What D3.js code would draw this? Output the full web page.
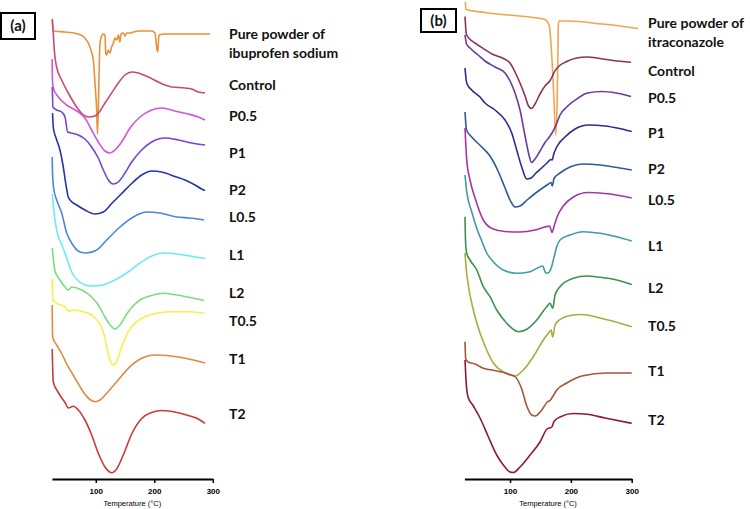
<!DOCTYPE html>
<html><head><meta charset="utf-8">
<script src="https://cdn.jsdelivr.net/npm/d3@7"></script>
<style>body{margin:0;background:#fff}svg{display:block}</style>
</head><body>
<svg id="c" width="750" height="509"></svg>
<script>
// x: temperature (°C); y: heat flow (arbitrary units, curves offset vertically)
const tempDomain = [25, 300];
const tempTicks = [100, 200, 300];
const axisTitle = "Temperature (°C)";

// ---------- Panel (a) ----------
const aPure = [[25.7,459],[27,448],[47,447],[70,445],[81.5,441],[90,432],[95.8,419],[98.6,396],[101.5,369],[103,345],[105.5,402],[107.2,436],[110,443],[112.9,445],[115.7,444],[117,426],[118.6,424],[121.4,429],[124.3,426],[127.1,432],[130,436],[132.8,441],[135.7,439],[138.5,444],[141.4,437],[143.1,445],[147.1,446],[149.9,443],[152.8,446],[158.5,446],[164.2,447],[172.7,448],[184.1,448],[195.5,448],[201.2,446],[204,432],[205.8,427],[206.9,436],[208,444],[218.3,445],[241,445],[269.6,445],[295.2,445]];
const aControl = [[25.7,460],[27.4,446],[29.1,429],[33.1,412],[41.6,399],[53,386],[67.3,372],[81.5,363],[90.1,362],[101.5,364],[115.7,376],[127.1,386],[138.5,396],[149.9,404],[161.3,407],[172.7,406],[189.8,402],[206.9,397],[218.3,394],[229.7,392],[252.5,391],[263.9,390],[275.3,387],[286.7,386]];
const aP05 = [[25.5,420],[25.7,402],[27.4,391],[36,382],[50.2,374],[58.7,371],[70.1,367],[81.5,361],[92.9,349],[104.3,337],[115.7,328],[124.3,326],[132.8,329],[144.2,337],[158.5,351],[175.6,362],[195.5,369],[212.6,371],[235.4,368],[258.2,365],[275.3,362],[286.7,359]];
const aP1 = [[25.7,392],[26.8,372],[33.1,369],[41.6,367],[47.4,362],[51.9,347],[58.7,346],[70.1,344],[81.5,340],[92.9,332],[104.3,321],[112.9,309],[121.4,299],[130,295],[138.5,297],[149.9,306],[161.3,317],[178.4,329],[195.5,337],[218.3,341],[241,339],[263.9,336],[286.7,334]];
const aP2 = [[26.1,366],[27.5,351],[32.1,341],[38.8,329],[43.9,314],[49.1,294],[53,282],[57.6,278],[67.4,274],[81.5,269],[98.6,265],[112.8,267],[127.2,275.5],[144.3,285.5],[161.4,295.5],[178.5,304],[195.6,308],[212.6,307],[235.4,302.5],[252.5,299],[269.6,294],[281,290],[286.7,288.5]];
const aL05 = [[25.5,322],[26.3,302],[28.5,289],[33.2,279],[41.7,266],[50.3,246],[58.8,236],[73,227],[84.4,226],[101.5,229],[118.6,239],[141.4,252],[164.1,262],[187,267],[209.7,266],[238.3,262],[261,261],[285,259]];
const aL1 = [[25.6,285],[30.3,259],[35.1,244],[42.1,234],[50.3,221],[58.8,207],[73,197],[90.1,193],[107.2,193.5],[129.4,198],[152.8,206],[175.6,216],[197.8,223.5],[214.9,226],[238.8,225],[261,223],[286.7,220.5]];
const aL2 = [[25.6,231],[30.3,208],[38.8,199],[47.4,192],[53,189],[58.8,192],[70.1,190.5],[81.5,187],[93,182],[104.3,174],[115.7,162],[124.3,154],[132.8,150],[141.4,154],[152.8,165],[163.6,173],[175.6,179],[198.3,184],[215.4,185.7],[238.3,184],[261,181.5],[285,178.5]];
const aT05 = [[25.5,200],[26.3,179],[33.2,175.7],[47.4,172.3],[53,168],[64.4,169],[78.6,167.3],[93,164],[104.3,157.3],[112.8,147.3],[118.6,132.3],[124.3,119],[129.9,114],[135.7,117.3],[144.3,132.3],[155.6,147.3],[169.9,157.3],[187,163],[209.7,166.3],[232.5,167.3],[261,167.3],[285,165.7]];
const aT1 = [[25.5,174],[26.3,142],[33.2,134],[41.7,125.5],[50.3,115],[58.8,106.5],[67.4,98],[78.6,87],[90.1,79.5],[98.6,77.3],[107.2,79],[118.6,85.7],[135.7,97.3],[155.6,110.7],[178.5,120.7],[201.2,124],[221.2,123.5],[243.9,121.7],[266.7,119],[286.7,116]];
const aT2 = [[25.5,130],[27.4,97],[35.9,86.5],[47.4,76.5],[53,71],[61.5,72.7],[70.1,69],[81.5,59],[93,44],[104.3,25.7],[115.7,12],[127.2,6.3],[135.7,10],[147,24],[161.4,45],[178.5,60.5],[195.6,66.5],[212.6,68.5],[241,66.3],[263.9,62.5],[275.2,60],[286.7,55.5]];

// ---------- Panel (b) ----------
const bPure = [[26.5,477],[27.7,469.5],[58.9,466.5],[96.7,464],[135.7,461.7],[157.5,459.5],[162.5,456],[164.9,452],[166.9,439],[169.9,409],[172.3,379],[174.8,344],[177.3,374],[178.6,419],[179.4,454],[180.6,458],[195.4,458],[250.7,455],[280.8,453],[310.4,450.5]];
const bControl = [[26,462.5],[28.2,445],[32.6,440.7],[42.5,436],[55.6,430.7],[72.1,424.5],[88.5,420.7],[100,416],[108.2,407],[116.4,396],[124.7,383],[130.4,373],[135.3,370.5],[141.1,375],[149.3,385],[157.5,393],[165.8,398.5],[169,402],[172.3,406.5],[178.9,412],[193.2,417.5],[209.7,421],[226.1,422],[248,420.5],[269.3,418.5],[298.9,416.7]];
const bP05 = [[26,444],[28.5,435],[34.2,431],[47.4,424],[58.9,418],[75.3,412],[91.8,406],[101.6,396],[108.2,386],[116.4,369],[124.7,343],[130.4,326],[135.3,316.5],[141.1,320],[149.3,328],[157.5,336.5],[165.8,343],[169,346],[175.6,354],[182.2,364],[193.2,372],[209.7,380],[227.4,386],[251.2,387.5],[274.3,386],[298.9,382.5]];
const bP1 = [[26,411],[28.8,396],[37,389],[50.7,382],[58.9,376],[75.3,369],[91.8,359],[102.8,346],[111,329],[119.2,312],[127.5,300],[134.5,301],[142.7,306],[151,310.5],[160.8,316],[167.4,319.5],[169.5,319],[171.5,324],[176.8,332],[190.4,342],[206.9,350],[228.7,354],[256.2,353],[278,350.7],[300.1,347.5]];
const bP2 = [[26,367],[28.5,349],[37,342],[53.5,332],[67.1,323],[80.3,308],[91.8,291],[100,279],[108.2,272],[116.4,273],[127.9,279],[144.4,287],[160.8,294],[167.4,296.5],[169.5,293],[172.3,300.5],[182.2,306],[198.6,312],[220,315],[248,314],[275.9,311.5],[300.1,309]];
const bL05 = [[26,351],[28.8,319],[34.2,299],[42.5,281],[56.1,259],[70.4,250.5],[91.8,247.5],[116.4,247],[141.1,249],[157.5,252],[164.9,253],[167.4,249],[169,246.5],[172.3,252.5],[177.3,262],[187.6,273],[204.1,282],[228.2,286.5],[256.2,285.5],[300.1,281]];
const bL1 = [[26,304],[28.8,287.3],[37,267.3],[45.3,250.7],[53.5,238],[61.7,226],[72.5,217.3],[89,209],[111,205.7],[132.9,207.3],[149.3,212.3],[153.8,213],[157.5,207.3],[161.3,205.7],[166.9,209.7],[171.2,219],[176.8,232.3],[182.2,239],[198.6,244],[220.5,247.3],[248,245.7],[275.4,242.3],[300.1,238]];
const bL2 = [[26,262.3],[26.8,239],[28.8,225.7],[34.2,219],[45.3,209],[56.1,192.3],[67.1,182.3],[78.1,169],[94.6,155.7],[113.6,147.3],[127.5,149.7],[143.9,159],[160.3,172.3],[165.8,175.7],[170.2,170.7],[174,184],[182.2,192.3],[204.1,200.7],[226.1,203],[248,201.7],[275.4,199],[300.1,194.5]];
const bT05 = [[26,226],[27.7,212],[31.4,194],[39.7,169],[50.7,146],[61.7,129],[72.5,116],[89,107],[108.2,103],[121.9,109],[138.3,122.3],[154.7,139],[164.6,147],[167.4,149],[170.2,142],[174,154],[182.2,159.5],[198.6,163.5],[217.9,164.5],[248,161],[300.1,152.3]];
const bT1 = [[26,137.3],[27.2,120],[31.4,117],[42.5,115],[56.1,110.7],[72.5,108.7],[89,106.7],[100,104.5],[108.2,102.5],[119.2,90],[127.5,73],[135.7,64],[141.1,63],[152.1,69],[161.3,77],[165.8,78.5],[170.2,82.5],[176.8,89],[193.2,96],[217.9,103],[259,106],[300.1,106]];
const bT2 = [[26,119],[28.2,94],[31,82],[39.7,73],[50.7,61],[63.8,43],[78.1,24],[89,14],[100,7],[105.4,6.5],[116.4,12],[132.9,24],[149.3,37],[160.8,50],[168.6,52],[172.3,57.5],[182.2,62],[203.6,65.5],[226.6,64.7],[256.2,61],[300.1,55.7]];

const seriesNames = ["Pure powder", "Control", "P0.5", "P1", "P2", "L0.5", "L1", "L2", "T0.5", "T1", "T2"];
const panelALabels = [["Pure powder of", "ibuprofen sodium"], ["Control"], ["P0.5"], ["P1"], ["P2"], ["L0.5"], ["L1"], ["L2"], ["T0.5"], ["T1"], ["T2"]];
const panelBLabels = [["Pure powder of", "itraconazole"], ["Control"], ["P0.5"], ["P1"], ["P2"], ["L0.5"], ["L1"], ["L2"], ["T0.5"], ["T1"], ["T2"]];
const panelAData = [aPure, aControl, aP05, aP1, aP2, aL05, aL1, aL2, aT05, aT1, aT2];
const panelBData = [bPure, bControl, bP05, bP1, bP2, bL05, bL1, bL2, bT05, bT1, bT2];

// ---------- styling / layout ----------
const colorsA = ["#E8913A", "#C94A78", "#D455D8", "#7845CF", "#2533B0", "#4C86DA", "#6DEAF2", "#78DF7A", "#F6F048", "#E08A42", "#CC3A3A"];
const colorsB = ["#F2A451", "#8C3459", "#6C3A9E", "#2C2C8A", "#2E5A98", "#A236A8", "#3F9DA2", "#3F9152", "#ABAA40", "#A0563A", "#8E1B2E"];
const labelYA = [[39.3, 58.3], [90], [120.7], [158.3], [195], [222.3], [260.3], [298.3], [326], [364.3], [419.3]];
const labelYB = [[28.3, 46.7], [76], [102.7], [138.3], [174.3], [205], [250.7], [293.3], [330.7], [376], [425]];

const panels = [
  {tag: "(a)", box: [1, 13, 34, 26], xr: [51.9, 212.8], labelX: 229, data: panelAData, colors: colorsA, labels: panelALabels, labelY: labelYA},
  {tag: "(b)", box: [421, 9, 35, 23], xr: [464.4, 631.7], labelX: 648, data: panelBData, colors: colorsB, labels: panelBLabels, labelY: labelYB}
];

const svg = d3.select("#c");
const y = d3.scaleLinear().domain([0, 479]).range([479, 0]);
const axisY = 479;

panels.forEach(p => {
  const x = d3.scaleLinear().domain(tempDomain).range(p.xr);
  const line = d3.line().x(d => x(d[0])).y(d => y(d[1])).curve(d3.curveMonotoneX);
  const g = svg.append("g");

  g.selectAll("path.curve").data(p.data).join("path")
    .attr("class", "curve")
    .attr("d", d => line(d))
    .attr("fill", "none")
    .attr("stroke", (d, i) => p.colors[i])
    .attr("stroke-width", 1.6)
    .attr("stroke-linejoin", "round");

  // axis
  const ax = g.append("g").attr("transform", `translate(0,${axisY})`)
    .call(d3.axisBottom(x).tickValues(tempTicks).tickSize(4).tickSizeOuter(0).tickPadding(5));
  ax.select(".domain").attr("stroke", "#000").attr("stroke-width", 2);
  ax.selectAll(".tick line").attr("stroke", "#000").attr("stroke-width", 1.5);
  ax.selectAll(".tick text").attr("font-family", "Liberation Sans, Arial, sans-serif")
    .attr("font-size", 8).attr("font-weight", "bold").attr("fill", "#000");

  g.append("text").attr("x", (p.xr[0] + p.xr[1]) / 2).attr("y", 506)
    .attr("text-anchor", "middle").attr("font-family", "Liberation Sans, Arial, sans-serif")
    .attr("font-size", 7.5).attr("fill", "#000").text(axisTitle);

  // labels
  p.labels.forEach((lines, i) => {
    lines.forEach((t, j) => {
      g.append("text").attr("x", p.labelX).attr("y", p.labelY[i][j])
        .attr("font-family", "Lato, 'Open Sans', sans-serif").attr("font-weight", "bold")
        .attr("font-size", 14).attr("fill", "#111").text(t);
    });
  });

  // tag box
  g.append("rect").attr("x", p.box[0]).attr("y", p.box[1]).attr("width", p.box[2]).attr("height", p.box[3])
    .attr("fill", "#fff").attr("stroke", "#000").attr("stroke-width", 2);
  g.append("text").attr("x", p.box[0] + p.box[2] / 2).attr("y", p.box[1] + p.box[3] / 2 + 5)
    .attr("text-anchor", "middle").attr("font-family", "Lato, 'Open Sans', sans-serif")
    .attr("font-weight", "bold").attr("font-size", 15).attr("fill", "#111").text(p.tag);
});
</script>
</body></html>
